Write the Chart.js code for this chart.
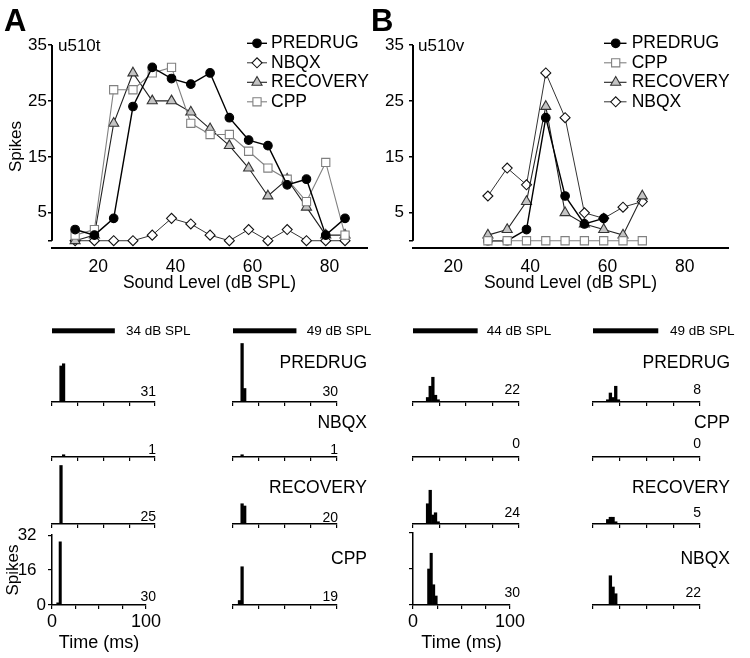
<!DOCTYPE html>
<html>
<head>
<meta charset="utf-8">
<script src="https://cdn.jsdelivr.net/npm/chart.js@4.4.0/dist/chart.umd.min.js"></script>
<style>
  body { margin: 0; background: #fff; }
  #fig { position: relative; width: 750px; height: 658px; overflow: hidden; font-family: "Liberation Sans", Arial, sans-serif; color: #000; }
  #fig canvas { position: absolute; }
  .lbl { position: absolute; white-space: nowrap; line-height: 1; }
</style>
</head>
<body>
<div id="fig"></div>
<script>
// ---- rate-level curves ----
const levelsA = [14, 19, 24, 29, 34, 39, 44, 49, 54, 59, 64, 69, 74, 79, 84];
const predrugA = [2, 1, 4, 24, 31, 29, 28, 30, 22, 18, 17, 10, 11, 1, 4];
const nbqxA = [0, 0, 0, 0, 1, 4, 3, 1, 0, 2, 0, 2, 0, 0, 0];
const recoveryA = [0, 1, 21, 30, 25, 25, 23, 20, 17, 13, 8, 11, 6, 1, 1];
const cppA = [1, 2, 27, 27, 30, 31, 21, 19, 19, 16, 13, 11, 7, 14, 1];

const levelsB = [29, 34, 39, 44, 49, 54, 59, 64, 69];
const predrugB = [0, 0, 2, 22, 8, 3, 4];
const cppB = [0, 0, 0, 0, 0, 0, 0, 0, 0];
const recoveryB = [1, 2, 7, 24, 5, 3, 2, 1, 8];
const nbqxB = [8, 13, 10, 30, 22, 5, 4, 6, 7];

const levelTicks = [20, 40, 60, 80];
const spikeTicks = [0, 5, 15, 25, 35];

// ---- PSTHs: counts per 2.5 ms bin, starting at 0 ms ----
const binMs = 2.5;
const timeTicks = [0, 25, 50, 75, 100];
const psthTicks = [0, 16, 32];
const stimMs = [0, 61];

const conditionsA = ['PREDRUG', 'NBQX', 'RECOVERY', 'CPP'];
const conditionsB = ['PREDRUG', 'CPP', 'RECOVERY', 'NBQX'];
const stimLabels = ['34 dB SPL', '49 dB SPL', '44 dB SPL', '49 dB SPL'];

const psthA34 = [
  [0, 0, 0, 16, 17],
  [0, 0, 0, 0, 1],
  [0, 0, 0, 26],
  [0, 0, 1, 29]
];
const psthA49 = [
  [0, 0, 0, 26, 6],
  [0, 0, 0, 1],
  [0, 0, 0, 9, 8],
  [0, 0, 2, 17]
];
const psthB44 = [
  [0, 0, 0, 0, 0, 2, 7, 11, 3, 1],
  [],
  [0, 0, 0, 0, 0, 9, 15, 4, 5, 1],
  [0, 0, 0, 0, 0, 0, 16, 23, 9, 4]
];
const psthB49 = [
  [0, 0, 0, 0, 0, 1, 4, 2, 7, 1],
  [],
  [0, 0, 0, 0, 0, 2, 3, 3, 1],
  [0, 0, 0, 0, 0, 0, 13, 8, 5]
];
const totalsA34 = [31, 1, 25, 30];
const totalsA49 = [30, 1, 20, 19];
const totalsB44 = [22, 0, 24, 30];
const totalsB49 = [8, 0, 5, 22];

// ---- layout (pixels) ----
const FONT = '"Liberation Sans", Arial, sans-serif';
const colX0 = [52, 233, 413, 593];
const colX1 = [155, 337, 519, 700];
const rowBase = [402, 457, 524, 605];
const numOffset = [[-11.5, -8, -8, -9.5], [-11.5, -8, -7.5, -9], [-13.5, -14, -12, -13.5], [-13.5, -14, -12, -13.5]];
const rowLabelY = [363.3, 423.3, 487.5, 558.8];

const styles = {
  PREDRUG: { pointStyle: 'circle', radius: 4.3, fill: '#000', stroke: '#000', line: '#000', lw: 1.4 },
  NBQX: { pointStyle: 'rectRot', radius: 5, fill: '#fff', stroke: '#111', line: '#333', lw: 1 },
  RECOVERY: { pointStyle: 'triangle', radius: 5.8, fill: '#c4c4c4', stroke: '#333', line: '#222', lw: 1.1 },
  CPP: { pointStyle: 'rect', radius: 5.8, fill: '#fff', stroke: '#808080', line: '#808080', lw: 1.1 }
};

const fig = document.getElementById('fig');

function addCanvas(left, top, w, h) {
  const c = document.createElement('canvas');
  c.width = w; c.height = h;
  c.style.left = left + 'px'; c.style.top = top + 'px';
  c.style.width = w + 'px'; c.style.height = h + 'px';
  fig.appendChild(c);
  return c;
}

function addText(txt, x, y, size, align, bold) {
  const d = document.createElement('div');
  d.className = 'lbl';
  d.textContent = txt;
  d.style.fontSize = size + 'px';
  if (bold) d.style.fontWeight = 'bold';
  d.style.left = x + 'px';
  d.style.top = y + 'px';
  const tx = align === 'right' ? '-100%' : align === 'center' ? '-50%' : '0';
  d.style.transform = 'translate(' + tx + ',-50%)';
  fig.appendChild(d);
}

// legend drawn inside the plot, one row per dataset
const insetLegend = {
  id: 'insetLegend',
  afterDatasetsDraw(chart, args, o) {
    const ctx = chart.ctx;
    ctx.save();
    chart.data.datasets.forEach((ds, i) => {
      const y = o.top + i * o.gap;
      ctx.strokeStyle = ds.borderColor;
      ctx.lineWidth = ds.borderWidth;
      ctx.beginPath();
      ctx.moveTo(o.x0, y);
      ctx.lineTo(o.x1, y);
      ctx.stroke();
      ctx.fillStyle = ds.pointBackgroundColor;
      ctx.strokeStyle = ds.pointBorderColor;
      ctx.lineWidth = ds.pointBorderWidth;
      Chart.helpers.drawPoint(ctx, {
        pointStyle: ds.pointStyle, radius: ds.pointRadius, rotation: 0, borderWidth: ds.pointBorderWidth
      }, o.xm, y);
      ctx.fillStyle = '#000';
      ctx.font = '17.5px ' + FONT;
      ctx.textBaseline = 'middle';
      ctx.textAlign = 'left';
      ctx.fillText(ds.label, o.tx, y);
    });
    ctx.restore();
  }
};

// y axis line that stops at zero, above the detached x axis
const yAxisLine = {
  id: 'yAxisLine',
  afterDraw(chart) {
    const y = chart.scales.y, ctx = chart.ctx, x = chart.chartArea.left;
    ctx.save();
    ctx.strokeStyle = '#000';
    ctx.lineWidth = 2;
    ctx.beginPath();
    ctx.moveTo(x, y.getPixelForValue(0));
    ctx.lineTo(x, y.getPixelForValue(35));
    ctx.stroke();
    ctx.restore();
  }
};

// stimulus bar above the top row of PSTHs
const stimBar = {
  id: 'stimBar',
  afterDatasetsDraw(chart, args, o) {
    const x = chart.scales.x, ctx = chart.ctx;
    const a = x.getPixelForValue(o.from), b = x.getPixelForValue(o.to);
    ctx.save();
    ctx.fillStyle = '#000';
    ctx.fillRect(a, chart.chartArea.top - 1.7, b - a, 5);
    ctx.restore();
  }
};

function tuningChart(left, axisW, padRight, tickPad, xMin, xMax, levels, series, legendPos, yTitle) {
  const cv = addCanvas(left, 0, 375, 300);
  const datasets = series.map(s => {
    const st = styles[s.name];
    return {
      label: s.name,
      data: s.values.map((v, i) => ({ x: levels[i], y: v })),
      borderColor: st.line, borderWidth: st.lw,
      pointStyle: st.pointStyle, pointRadius: st.radius,
      pointBackgroundColor: st.fill, pointBorderColor: st.stroke, pointBorderWidth: 1.1,
      fill: false, tension: 0, order: s.order
    };
  });
  return new Chart(cv, {
    type: 'line',
    data: { datasets },
    plugins: [insetLegend, yAxisLine],
    options: {
      responsive: false, animation: false, events: [],
      layout: { padding: { top: 45, right: padRight, left: 0, bottom: 0 } },
      plugins: { legend: { display: false }, tooltip: { enabled: false }, insetLegend: legendPos },
      scales: {
        x: {
          type: 'linear', min: xMin, max: xMax,
          afterBuildTicks: s => { s.ticks = levelTicks.map(v => ({ value: v })); },
          afterFit: s => { s.height = 52; },
          grid: { display: false },
          border: { display: true, color: '#000', width: 2 },
          ticks: { color: '#000', font: { family: FONT, size: 17.5 }, padding: 1, maxRotation: 0, autoSkip: false },
          title: { display: true, text: 'Sound Level (dB SPL)', color: '#000', font: { family: FONT, size: 17.5 }, padding: { top: 0, bottom: 6 } }
        },
        y: {
          type: 'linear', min: -1.3, max: 35,
          afterBuildTicks: s => { s.ticks = spikeTicks.map(v => ({ value: v })); },
          afterFit: s => { s.width = axisW; },
          grid: { display: true, drawOnChartArea: false, drawTicks: true, tickLength: 4, color: '#000', lineWidth: 1.5 },
          border: { display: false },
          ticks: { color: '#000', font: { family: FONT, size: 17 }, padding: tickPad, callback: v => v === 0 ? '' : v },
          title: { display: yTitle, text: 'Spikes', color: '#000', font: { family: FONT, size: 17 }, padding: { top: 6.5, bottom: 0 } }
        }
      }
    }
  });
}

tuningChart(0, 52, 8, 1, 8, 89.7, levelsA, [
  { name: 'PREDRUG', values: predrugA, order: 0 },
  { name: 'NBQX', values: nbqxA, order: 3 },
  { name: 'RECOVERY', values: recoveryA, order: 2 },
  { name: 'CPP', values: cppA, order: 1 }
], { x0: 247, x1: 267, xm: 257, tx: 271, top: 43.3, gap: 19.5 }, true);

tuningChart(375, 38, 22, 5, 9.6, 91.2, levelsB, [
  { name: 'PREDRUG', values: predrugB, order: 1 },
  { name: 'CPP', values: cppB, order: 0 },
  { name: 'RECOVERY', values: recoveryB, order: 2 },
  { name: 'NBQX', values: nbqxB, order: 3 }
], { x0: 229, x1: 251.5, xm: 240.7, tx: 256.7, top: 43.3, gap: 19.5 }, false);

const psth = [psthA34, psthA49, psthB44, psthB49];

function psthChart(col, row) {
  const x0 = colX0[col], x1 = colX1[col], base = rowBase[row];
  const cv = addCanvas(x0 - 52, base - 82, x1 - x0 + 60, 134);
  const counts = psth[col][row];
  const data = [];
  for (let k = 0; k < 100 / binMs; k++) data.push({ x: k * binMs + binMs / 2, y: counts[k] || 0 });
  const bottom = row === 3 && (col === 0 || col === 2);
  const labels = bottom && col === 0;
  return new Chart(cv, {
    type: 'bar',
    data: { datasets: [{ data, backgroundColor: '#000', borderWidth: 0, barPercentage: 1, categoryPercentage: 1 }] },
    plugins: row === 0 ? [stimBar] : [],
    options: {
      responsive: false, animation: false, events: [],
      layout: { padding: { top: 10, right: 8, left: 0, bottom: 0 } },
      plugins: { legend: { display: false }, tooltip: { enabled: false }, stimBar: { from: stimMs[0], to: stimMs[1] } },
      scales: {
        x: {
          type: 'linear', min: 0, max: 100, offset: false,
          afterBuildTicks: s => { s.ticks = timeTicks.map(v => ({ value: v })); },
          afterFit: s => { s.height = 52; },
          grid: { display: true, offset: false, drawOnChartArea: false, drawTicks: true, tickLength: 4, color: '#000', lineWidth: 1.2 },
          border: { display: true, color: '#000', width: 1.5 },
          ticks: {
            display: bottom, color: '#000', font: { family: FONT, size: 18 }, padding: 2, maxRotation: 0, autoSkip: false,
            callback: v => (v === 0 || v === 100) ? v : ''
          },
          title: { display: bottom, text: 'Time (ms)', color: '#000', font: { family: FONT, size: 18 }, padding: { top: 0, bottom: 3 } }
        },
        y: {
          type: 'linear', min: 0, max: 32,
          afterBuildTicks: s => { s.ticks = psthTicks.map(v => ({ value: v })); },
          afterFit: s => { s.width = 52; },
          grid: { display: bottom, drawOnChartArea: false, drawTicks: true, tickLength: 4, color: '#000', lineWidth: 1.2 },
          border: { display: bottom, color: '#000', width: 1.5 },
          ticks: {
            display: labels, color: '#000', font: { family: FONT, size: 17 }, padding: 2,
            callback: v => v === 0 ? '0' : v + '\u2007'
          },
          title: { display: labels, text: 'Spikes', color: '#000', font: { family: FONT, size: 17 }, padding: { top: 3, bottom: 0 } }
        }
      }
    }
  });
}

for (let c = 0; c < 4; c++) for (let r = 0; r < 4; r++) psthChart(c, r);

// ---- text ----
addText('A', 4, 20, 31, 'left', true);
addText('B', 371, 20, 31, 'left', true);
addText('u510t', 58, 45, 17, 'left');
addText('u510v', 418, 45, 17, 'left');

const stimTextX = [126, 306.7, 486.7, 670];
stimLabels.forEach((t, c) => addText(t, stimTextX[c], 330.8, 13.5, 'left'));
conditionsA.forEach((t, r) => addText(t, 367, rowLabelY[r], 17.5, 'right'));
conditionsB.forEach((t, r) => addText(t, 730, rowLabelY[r], 17.5, 'right'));
[totalsA34, totalsA49, totalsB44, totalsB49].forEach((tot, c) => {
  tot.forEach((n, r) => addText(String(n), colX1[c] + 1, rowBase[r] + numOffset[c][r], 14, 'right'));
});
</script>
</body>
</html>
